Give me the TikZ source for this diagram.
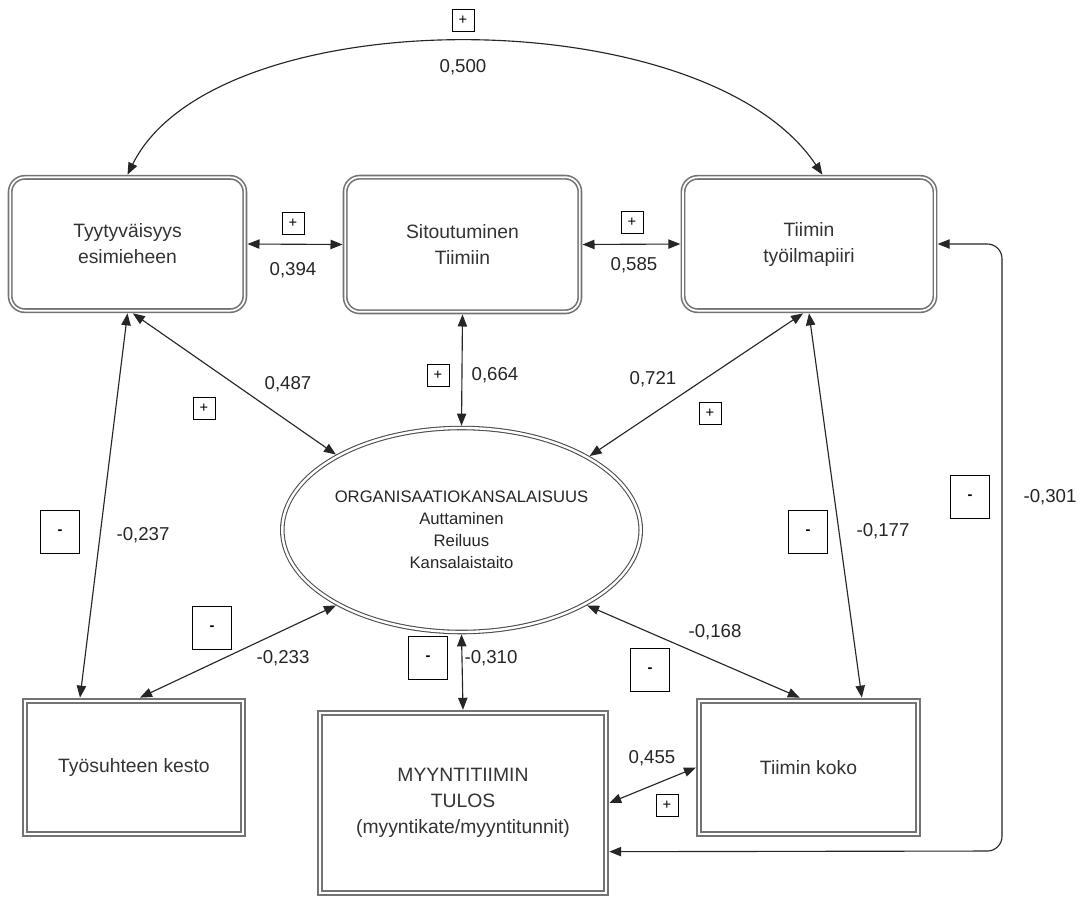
\documentclass[tikz,border=0pt]{standalone}
\usepackage{fontspec}
\setmainfont{Liberation Sans}
\usetikzlibrary{arrows.meta,shapes.geometric}

\tikzset{
	rbox/.style={draw=black!55, double=white, double distance=1.3pt, line width=1.2pt,
		rounded corners=11pt, outer sep=2pt, align=center, text=black!80,
		font=\fontsize{14.5}{19.5}\selectfont},
	sbox/.style={draw=black!55, double=white, double distance=1.3pt, line width=1.6pt,
		outer sep=2.4pt, align=center, text=black!80, font=\fontsize{14.5}{19.5}\selectfont},
	conn/.style={arrows={Triangle[length=9pt,width=7pt]-Triangle[length=9pt,width=7pt]}, line width=0.85pt, black!85},
	num/.style={font=\fontsize{14}{16}\selectfont, text=black!85},
	plusbox/.style={draw, line width=0.7pt, minimum size=16.5pt, inner sep=0pt, font=\fontsize{11}{11}\selectfont},
	minusbox/.style={draw, line width=0.8pt, minimum width=29pt, minimum height=32pt, inner sep=0pt, font=\bfseries\fontsize{11}{11}\selectfont}
}

\begin{document}
\begin{tikzpicture}[x=0.75pt, y=-0.75pt]
	\fill[white] (0,0) rectangle (1084,897);
	\useasboundingbox (0,0) rectangle (1084,897);
	% variables
	\node[rbox, minimum width=176pt, minimum height=100pt] (tyyt) at (127.5,244) {Tyytyväisyys\\esimieheen};
	\node[rbox, minimum width=176pt, minimum height=101pt] (sitout) at (462.5,244.5) {Sitoutuminen\\Tiimiin};
	\node[rbox, minimum width=189pt, minimum height=100pt] (ilma) at (809,244) {Tiimin\\työilmapiiri};
	\node[draw=black!70, double=white, double distance=1.8pt, line width=0.8pt, ellipse, outer sep=1.8pt,
		minimum width=252pt, minimum height=153pt, inner sep=0pt, align=center, text=black!85,
		font=\fontsize{12.5}{16.5}\selectfont] (org) at (461.5,530)
		{ORGANISAATIOKANSALAISUUS\\Auttaminen\\Reiluus\\Kansalaistaito};
	\node[sbox, minimum width=163.5pt, minimum height=100pt] (kesto) at (134,767.5) {Työsuhteen kesto};
	\node[sbox, minimum width=214.5pt, minimum height=135pt] (tulos) at (463,803) {MYYNTITIIMIN\\TULOS\\(myyntikate/myyntitunnit)};
	\node[sbox, minimum width=164pt, minimum height=100pt] (koko) at (808.5,767.5) {Tiimin koko};
	% correlations
	\draw[conn] (tyyt.north) .. controls (215,-2) and (705,-2) .. ([xshift=10pt]ilma.north);
	\draw[conn] (tyyt.east) -- (sitout.west);
	\draw[conn] (sitout.east) -- (ilma.west);
	\draw[conn] ([xshift=4pt]tyyt.south) -- (org.149);
	\draw[conn] (sitout.south) -- (org.north);
	\draw[conn] ([xshift=-4.5pt]ilma.south) -- (org.30);
	\draw[conn] (tyyt.south) -- ([xshift=-40.5pt]kesto.north);
	\draw[conn] ([xshift=4.5pt]kesto.north) -- (org.211);
	\draw[conn] (org.south) -- (tulos.north);
	\draw[conn] (org.-31) -- ([xshift=-6.5pt]koko.north);
	\draw[conn] (ilma.south) -- ([xshift=40pt]koko.north);
	\draw[conn] (tulos.east) -- (koko.west);
	\coordinate (kulma) at (1002,851);
	\draw[conn, rounded corners=11pt] (ilma.east) -| (kulma) -- ([yshift=-36.5pt]tulos.east);
	% signs and values
	\node[plusbox] (s1) at (463,20) {+};
	\node[num] (v1) at (463,67) {0,500};
	\node[plusbox] (s2) at (293,223) {+};
	\node[num] (v2) at (293,270) {0,394};
	\node[plusbox] (s3) at (632,222) {+};
	\node[num] (v3) at (634,265) {0,585};
	\node[num] (v4) at (288,384) {0,487};
	\node[plusbox] (s4) at (204,408) {+};
	\node[plusbox] (s5) at (438,375) {+};
	\node[num] (v5) at (495,375) {0,664};
	\node[num] (v6) at (653,379) {0,721};
	\node[plusbox] (s6) at (710,413) {+};
	\node[minusbox] (s7) at (60,532) {-};
	\node[num] (v7) at (143,535) {-0,237};
	\node[minusbox] (s8) at (212,628) {-};
	\node[num] (v8) at (283,658) {-0,233};
	\node[minusbox] (s9) at (428,658) {-};
	\node[num] (v9) at (491,658) {-0,310};
	\node[num] (v10) at (715,632) {-0,168};
	\node[minusbox] (s10) at (650,670) {-};
	\node[minusbox] (s11) at (808,532) {-};
	\node[num] (v11) at (883,531) {-0,177};
	\node[minusbox] (s12) at (970,497) {-};
	\node[num] (v12) at (1050,497) {-0,301};
	\node[num] (v13) at (652,758) {0,455};
	\node[plusbox] (s13) at (667,805) {+};
\end{tikzpicture}
\end{document}
